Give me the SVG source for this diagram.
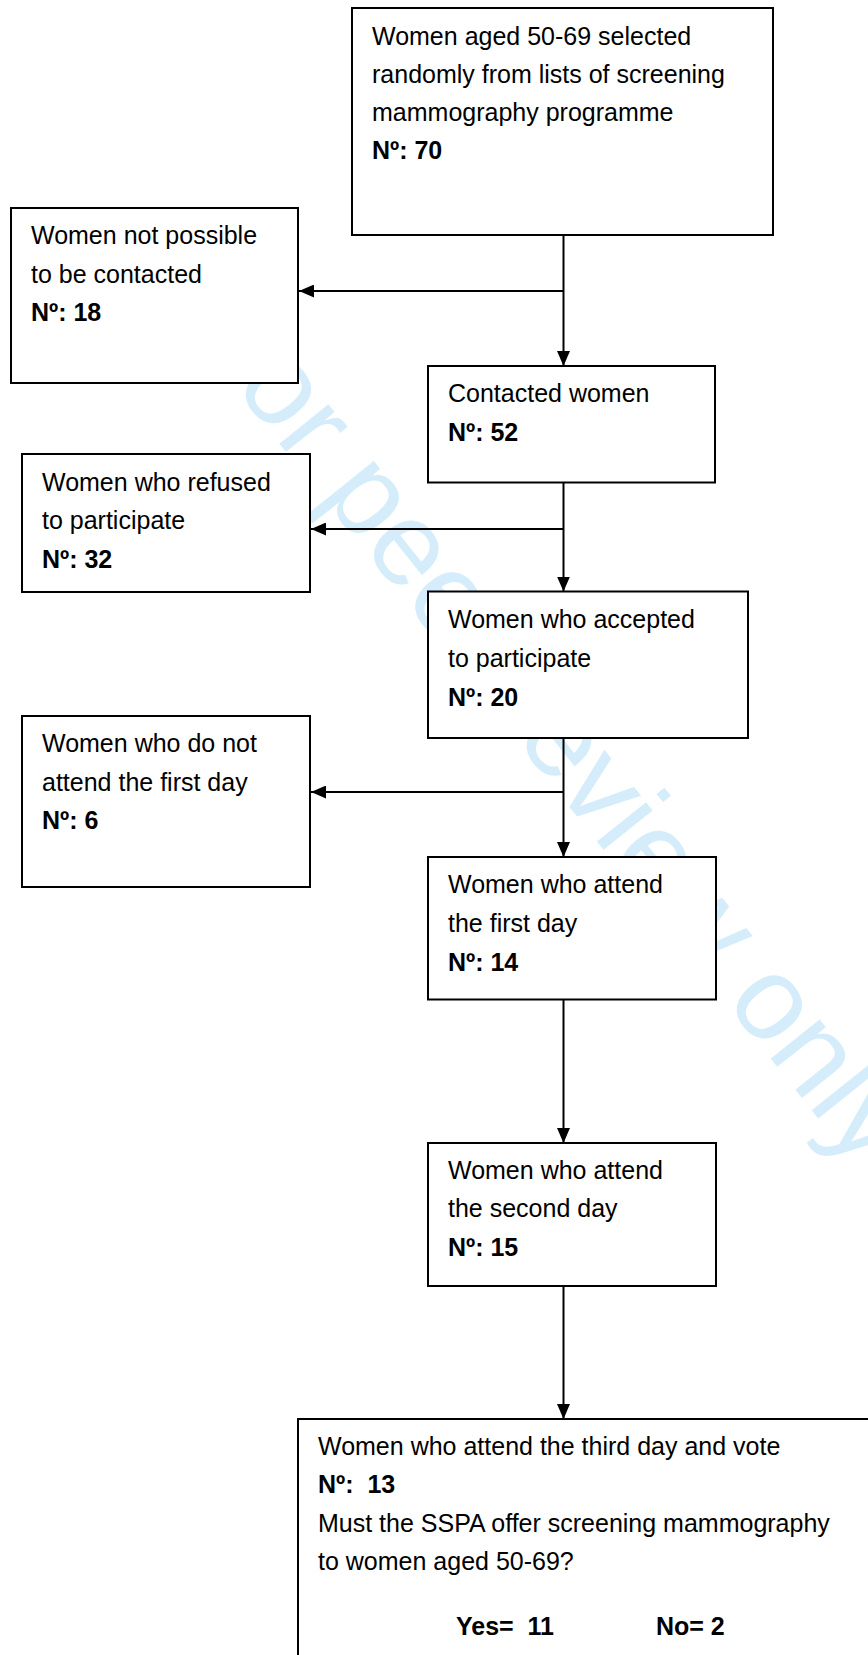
<svg xmlns="http://www.w3.org/2000/svg" width="868" height="1655" viewBox="0 0 868 1655">
<style>
  .box { fill: #ffffff; stroke: #000000; stroke-width: 2; }
  .t { font-family: "Liberation Sans", Arial, sans-serif; font-size: 25px; fill: #000000; white-space: pre; }
  .b { font-weight: bold; }
  .conn { fill: none; stroke: #000000; stroke-width: 2; }
  .wm { font-family: "Liberation Sans", Arial, sans-serif; font-size: 119px; fill: #d5edfb; }
</style>
<defs>
  <marker id="arr" markerUnits="userSpaceOnUse" markerWidth="15" markerHeight="13" refX="15" refY="6.5" orient="auto">
    <path d="M0,0 L15,6.5 L0,13 Z" fill="#000000"/>
  </marker>
</defs>
<rect x="0" y="0" width="868" height="1655" fill="#ffffff"/>
<text class="wm" x="0" y="0" text-anchor="middle" transform="translate(524,750) rotate(51.4)">For peer review only</text>

<g id="connectors">
  <line class="conn" x1="563.5" y1="235" x2="563.5" y2="366" marker-end="url(#arr)"/>
  <line class="conn" x1="563.5" y1="291" x2="299" y2="291" marker-end="url(#arr)"/>
  <line class="conn" x1="563.5" y1="482.5" x2="563.5" y2="591.5" marker-end="url(#arr)"/>
  <line class="conn" x1="563.5" y1="529" x2="311" y2="529" marker-end="url(#arr)"/>
  <line class="conn" x1="563.5" y1="738" x2="563.5" y2="857" marker-end="url(#arr)"/>
  <line class="conn" x1="563.5" y1="792" x2="311" y2="792" marker-end="url(#arr)"/>
  <line class="conn" x1="563.5" y1="999.5" x2="563.5" y2="1143" marker-end="url(#arr)"/>
  <line class="conn" x1="563.5" y1="1286" x2="563.5" y2="1419" marker-end="url(#arr)"/>
</g>

<g id="n-selected">
  <rect class="box" x="352" y="8" width="421" height="227"/>
  <text class="t" x="372" y="45">Women aged 50-69 selected</text>
  <text class="t" x="372" y="83">randomly from lists of screening</text>
  <text class="t" x="372" y="121">mammography programme</text>
  <text class="t b" x="372" y="159">Nº: 70</text>
</g>

<g id="n-not-contacted">
  <rect class="box" x="11" y="208" width="287" height="175"/>
  <text class="t" x="31" y="244">Women not possible</text>
  <text class="t" x="31" y="282.5">to be contacted</text>
  <text class="t b" x="31" y="321">Nº: 18</text>
</g>

<g id="n-contacted">
  <rect class="box" x="428" y="366" width="287" height="116.5"/>
  <text class="t" x="448" y="402">Contacted women</text>
  <text class="t b" x="448" y="441">Nº: 52</text>
</g>

<g id="n-refused">
  <rect class="box" x="22" y="454" width="288" height="138"/>
  <text class="t" x="42" y="491">Women who refused</text>
  <text class="t" x="42" y="529">to participate</text>
  <text class="t b" x="42" y="568">Nº: 32</text>
</g>

<g id="n-accepted">
  <rect class="box" x="428" y="591.5" width="320" height="146.5"/>
  <text class="t" x="448" y="628">Women who accepted</text>
  <text class="t" x="448" y="667">to participate</text>
  <text class="t b" x="448" y="705.5">Nº: 20</text>
</g>

<g id="n-not-first">
  <rect class="box" x="22" y="716" width="288" height="171"/>
  <text class="t" x="42" y="752">Women who do not</text>
  <text class="t" x="42" y="790.5">attend the first day</text>
  <text class="t b" x="42" y="829">Nº: 6</text>
</g>

<g id="n-first">
  <rect class="box" x="428" y="857" width="288" height="142.5"/>
  <text class="t" x="448" y="893">Women who attend</text>
  <text class="t" x="448" y="931.5">the first day</text>
  <text class="t b" x="448" y="970.5">Nº: 14</text>
</g>

<g id="n-second">
  <rect class="box" x="428" y="1143" width="288" height="143"/>
  <text class="t" x="448" y="1179">Women who attend</text>
  <text class="t" x="448" y="1217">the second day</text>
  <text class="t b" x="448" y="1256">Nº: 15</text>
</g>

<g id="n-third">
  <rect class="box" x="298" y="1419" width="600" height="300"/>
  <text class="t" x="318" y="1455">Women who attend the third day and vote</text>
  <text class="t b" x="318" y="1493">Nº:  13</text>
  <text class="t" x="318" y="1532">Must the SSPA offer screening mammography</text>
  <text class="t" x="318" y="1570">to women aged 50-69?</text>
  <text class="t b" x="456" y="1635">Yes=  11</text>
  <text class="t b" x="656" y="1635">No= 2</text>
</g>
</svg>
